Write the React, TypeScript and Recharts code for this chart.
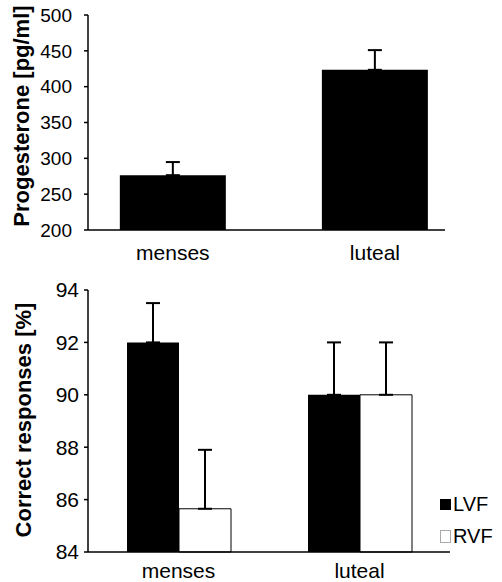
import { Bar, BarChart, ErrorBar, Legend, XAxis, YAxis } from "recharts";

const font = "'Liberation Sans', Arial, sans-serif";

// top panel: progesterone by cycle phase
const phases = ["menses", "luteal"];
const phasePos = [0, 1];
const progesterone = [276.5, 423.5];
const progesteroneSem = [18.3, 27.5];
const progTicks = [200, 250, 300, 350, 400, 450, 500];

// bottom panel: correct responses by visual field
const fields = ["LVF", "RVF"];
const fieldFills = ["#000000", "#FFFFFF"];
const lvf = [92.0, 90.0];
const lvfSem = [1.5, 2.0];
const rvf = [85.65, 90.0];
const rvfSem = [2.25, 2.0];
const accTicks = [84, 86, 88, 90, 92, 94];

const topData = phases.map((name, i) => ({
  name,
  pos: phasePos[i],
  value: progesterone[i],
  err: [0, progesteroneSem[i]],
}));

const bottomData = phases.map((name, i) => ({
  name,
  LVF: lvf[i],
  LVFerr: [0, lvfSem[i]],
  RVF: rvf[i],
  RVFerr: [0, rvfSem[i]],
}));

const axisLine = { stroke: "#000", strokeWidth: 1.5 };

function AxisTitle({ text, x, y }: { text: string; x: number; y: number }) {
  return (
    <text
      transform={`translate(${x},${y}) rotate(-90)`}
      textAnchor="middle"
      fontSize={22}
      fontWeight="bold"
      fontFamily={font}
      fill="#000"
    >
      {text}
    </text>
  );
}

function FieldLegend() {
  return (
    <div style={{ fontFamily: font, fontSize: 20, lineHeight: "32px", color: "#000" }}>
      {fields.map((f, i) => (
        <div key={f} style={{ display: "flex", alignItems: "center" }}>
          <span
            style={{
              display: "inline-block",
              width: i ? 9 : 11,
              height: i ? 11 : 11,
              background: fieldFills[i],
              border: i ? "1px solid #aaa" : "none",
              marginRight: 2,
            }}
          />
          {f}
        </div>
      ))}
    </div>
  );
}

export default function App() {
  return (
    <div style={{ position: "absolute", left: 0, top: 0, width: 502, height: 582, background: "#fff" }}>
      <div style={{ position: "absolute", left: 0, top: 0 }}>
        <BarChart width={502} height={270} data={topData} margin={{ top: 15, right: 57, bottom: 10, left: 28 }}>
          <XAxis
            type="number"
            dataKey="pos"
            domain={[-0.42, 1.347]}
            ticks={phasePos}
            allowDataOverflow
            tickFormatter={(v: number) => phases[v]}
            tickLine={false}
            tickSize={0}
            tickMargin={15}
            height={30}
            axisLine={axisLine}
            tick={{ fill: "#000", fontSize: 21, fontFamily: font }}
          />
          <YAxis
            domain={[200, 500]}
            ticks={progTicks}
            width={60}
            tickSize={4}
            tickMargin={12}
            axisLine={axisLine}
            tickLine={{ stroke: "#000", strokeWidth: 1.5 }}
            tick={{ fill: "#000", fontSize: 19, fontFamily: font }}
            label={{ content: () => <AxisTitle text="Progesterone [pg/ml]" x={29} y={116} /> }}
          />
          <Bar dataKey="value" fill="#000" barSize={106} isAnimationActive={false}>
            <ErrorBar dataKey="err" direction="y" width={7} stroke="#000" strokeWidth={2} isAnimationActive={false} />
          </Bar>
        </BarChart>
      </div>
      <div style={{ position: "absolute", left: 0, top: 270 }}>
        <BarChart
          width={502}
          height={312}
          data={bottomData}
          margin={{ top: 20, right: 52, bottom: 8, left: 28 }}
          barGap={0}
        >
          <XAxis
            dataKey="name"
            tickLine={false}
            tickSize={0}
            tickMargin={11}
            height={22}
            axisLine={axisLine}
            tick={{ fill: "#000", fontSize: 21, fontFamily: font }}
          />
          <YAxis
            domain={[84, 94]}
            ticks={accTicks}
            width={60}
            tickSize={4}
            tickMargin={5}
            axisLine={axisLine}
            tickLine={{ stroke: "#000", strokeWidth: 1.5 }}
            tick={{ fill: "#000", fontSize: 21, fontFamily: font }}
            label={{ content: () => <AxisTitle text="Correct responses [%]" x={31} y={150} /> }}
          />
          <Legend
            layout="vertical"
            align="center"
            verticalAlign="middle"
            wrapperStyle={{ left: 440, top: 218, width: 70 }}
            content={() => <FieldLegend />}
          />
          <Bar dataKey="LVF" fill={fieldFills[0]} barSize={52} isAnimationActive={false}>
            <ErrorBar dataKey="LVFerr" direction="y" width={7} stroke="#000" strokeWidth={2} isAnimationActive={false} />
          </Bar>
          <Bar dataKey="RVF" fill={fieldFills[1]} stroke="#000" strokeWidth={1} barSize={52} isAnimationActive={false}>
            <ErrorBar dataKey="RVFerr" direction="y" width={7} stroke="#000" strokeWidth={2} isAnimationActive={false} />
          </Bar>
        </BarChart>
      </div>
    </div>
  );
}
